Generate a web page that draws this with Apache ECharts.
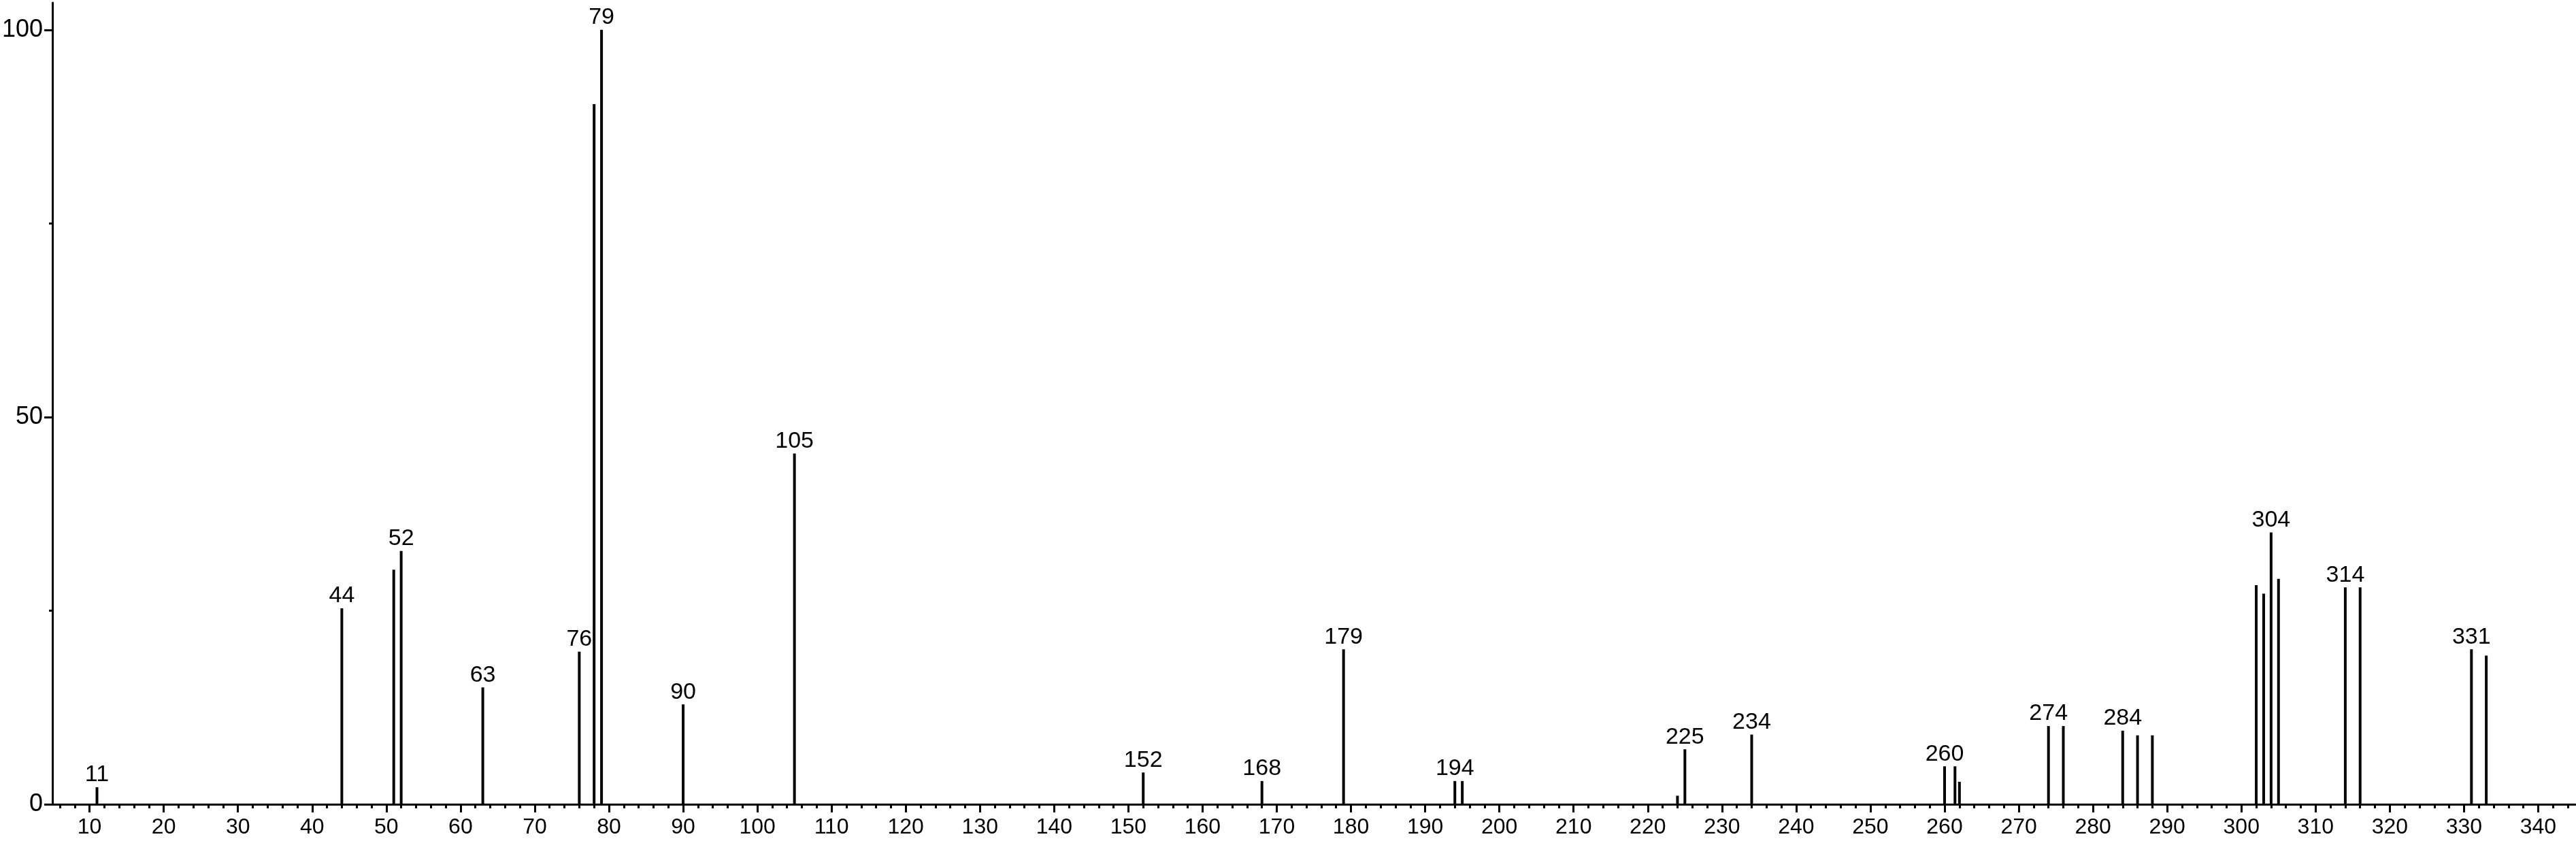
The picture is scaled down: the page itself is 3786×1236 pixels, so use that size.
<!DOCTYPE html>
<html>
<head>
<meta charset="utf-8">
<script src="https://cdn.jsdelivr.net/npm/echarts@6/dist/echarts.min.js"></script>
<style>
  html, body { margin: 0; padding: 0; background: #fff; }
  #main { width: 3786px; height: 1236px; }
</style>
</head>
<body>
<div id="main"></div>
<script>
  // peaks: m/z and relative intensity (%)
  const mz = [11, 44, 51, 52, 63, 76, 78, 79, 90, 105, 152, 168, 179, 194, 195,
    224, 225, 234, 260, 261.4, 262, 274, 276, 284, 286, 288, 302, 303, 304, 305,
    314, 316, 331, 333];
  const intensity = [2.2, 25.3, 30.3, 32.7, 15.1, 19.7, 90.4, 100, 12.9, 45.3, 4.1, 3.0, 20.0, 3.0, 3.0,
    1.1, 7.1, 9.0, 4.9, 4.9, 2.9, 10.1, 10.1, 9.5, 8.9, 8.9, 28.3, 27.2, 35.1, 29.1,
    28.0, 28.0, 20.0, 19.2];
  // peaks that carry a number above them
  const labelled = [11, 44, 52, 63, 76, 79, 90, 105, 152, 168, 179, 194, 225, 234,
    260, 274, 284, 304, 314, 331];

  const xMajor = [];
  for (let v = 10; v <= 340; v += 10) xMajor.push(v);
  const xMinor = [];
  for (let v = 6; v <= 344; v += 2) { if (v % 10 !== 0) xMinor.push(v); }
  const yMajor = [0, 50, 100];
  const yMinor = [25, 75];

  let data = mz.map(function (m, i) {
    return {
      value: [m, intensity[i]],
      label: { show: labelled.indexOf(m) >= 0 }
    };
  });

  let font = 'Liberation Sans, Arial, sans-serif';
  let axisColor = '#000';

  let myChart = echarts.init(document.getElementById('main'));
  let option = {
    animation: false,
    backgroundColor: '#fff',
    grid: { left: 70, right: 1, top: 4, bottom: 54 },
    xAxis: [{
      type: 'value',
      min: 5,
      max: 345,
      axisLine: { show: true, onZero: false, lineStyle: { color: axisColor, width: 3 } },
      axisTick: { show: true, customValues: xMinor, length: 6, lineStyle: { color: axisColor, width: 3 } },
      axisLabel: { show: false },
      splitLine: { show: false }
    }, {
      type: 'value',
      min: 5,
      max: 345,
      position: 'bottom',
      axisLine: { show: false },
      axisTick: { show: true, customValues: xMajor, length: 12, lineStyle: { color: axisColor, width: 3 } },
      axisLabel: {
        show: true, customValues: xMajor, margin: 18,
        color: '#000', fontSize: 32, fontFamily: font
      },
      splitLine: { show: false }
    }],
    yAxis: [{
      type: 'value',
      min: 0,
      max: 103.5,
      axisLine: { show: true, onZero: false, lineStyle: { color: axisColor, width: 3 } },
      axisTick: { show: true, customValues: yMajor, length: 12, lineStyle: { color: axisColor, width: 3 } },
      axisLabel: {
        show: true, customValues: yMajor, margin: 14,
        color: '#000', fontSize: 36, fontFamily: font
      },
      splitLine: { show: false }
    }, {
      type: 'value',
      min: 0,
      max: 103.5,
      position: 'left',
      axisLine: { show: false },
      axisTick: { show: true, customValues: yMinor, length: 5, lineStyle: { color: axisColor, width: 3 } },
      axisLabel: { show: false },
      splitLine: { show: false }
    }],
    series: [{
      type: 'bar',
      xAxisIndex: 0,
      yAxisIndex: 0,
      barWidth: 4,
      itemStyle: { color: '#000' },
      label: {
        position: 'top',
        distance: 1,
        color: '#000',
        fontSize: 34,
        fontFamily: font,
        formatter: function (p) { return p.value[0]; }
      },
      data: data
    }]
  };
  myChart.setOption(option);
</script>
</body>
</html>
